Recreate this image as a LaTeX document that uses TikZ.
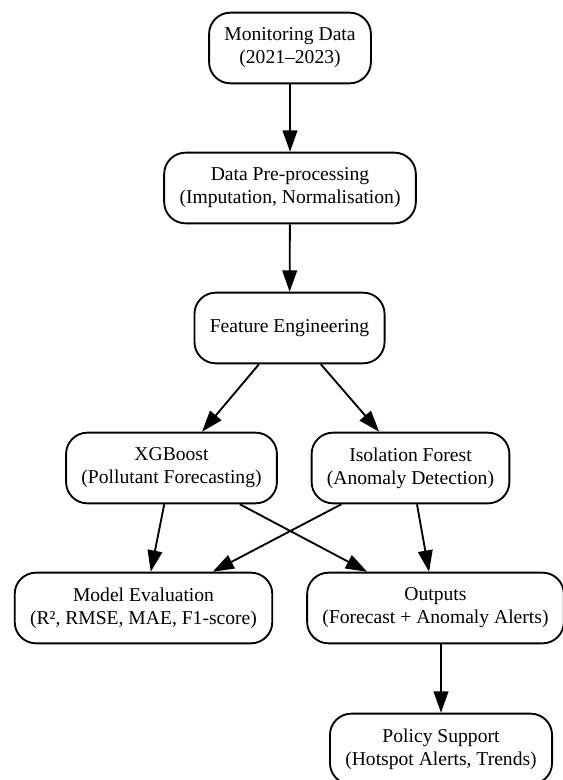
\documentclass[tikz,border=0pt]{standalone}
\usepackage{fontspec}
\setmainfont{Liberation Serif}
\usepackage{tikz}
\usetikzlibrary{arrows.meta,positioning}
\tikzset{
  flow box/.style={
    draw,
    rounded corners=16pt,
    line width=1.4pt,
    align=center,
    minimum height=53pt,
    inner xsep=11.5pt,
    font=\fontsize{14.7}{17.2}\selectfont
  },
  flow arrow/.style={
    -{Triangle[length=16pt,width=11pt]},
    line width=1.4pt
  }
}
\begin{document}
\begin{tikzpicture}[x=0.75pt,y=-0.75pt]
  \useasboundingbox (0,0) rectangle (562,780);

  % Input and preparation
  \node[flow box] (data) at (290,48) {Monitoring Data\\(2021--2023)};
  \node[flow box] (prep) at (290,188) {Data Pre-processing\\(Imputation, Normalisation)};
  \node[flow box] (feat) at (289.5,328) {Feature Engineering};

  % Models
  \node[flow box] (xgb) at (171.5,468) {XGBoost\\(Pollutant Forecasting)};
  \node[flow box] (iso) at (410.5,468) {Isolation Forest\\(Anomaly Detection)};

  % Results
  \node[flow box] (eval) at (143.5,608) {Model Evaluation\\(R², RMSE, MAE, F1-score)};
  \node[flow box] (out) at (435.5,608) {Outputs\\(Forecast + Anomaly Alerts)};
  \node[flow box] (policy) at (441,749) {Policy Support\\(Hotspot Alerts, Trends)};

  % Connections
  \draw[flow arrow] (data) -- (prep);
  \draw[flow arrow] (prep) -- (feat);
  \draw[flow arrow] (feat) -- (xgb);
  \draw[flow arrow] (feat) -- (iso);
  \draw[flow arrow] (xgb) -- (eval);
  \draw[flow arrow] (xgb) -- (out);
  \draw[flow arrow] (iso) -- (eval);
  \draw[flow arrow] (iso) -- (out);
  \draw[flow arrow] (out.south -| policy.north) -- (policy);

\end{tikzpicture}
\end{document}
